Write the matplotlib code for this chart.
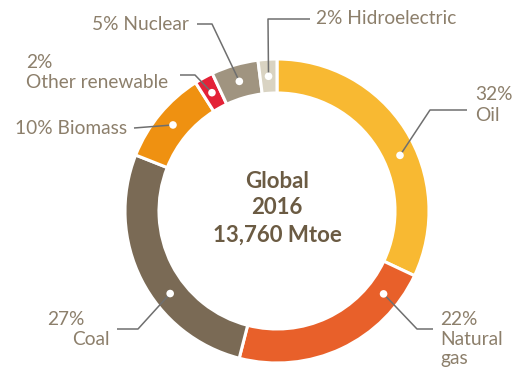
import numpy as np
import matplotlib.pyplot as plt
from matplotlib.patches import Circle

# energy mix, global 2016 (% of total primary energy)
sources = ['Oil', 'Natural gas', 'Coal', 'Biomass', 'Other renewable', 'Nuclear', 'Hidroelectric']
shares = [32, 22, 27, 10, 2, 5, 2]
colors = ['#F8B932', '#E8602A', '#7A6A55', '#EF9111', '#E32237', '#A09480', '#D9D3C2']
label_texts = ['32%\nOil', '22%\nNatural\ngas', '27%\nCoal', '10% Biomass',
               '2%\nOther renewable', '5% Nuclear', '2% Hidroelectric']

W, H = 513, 369
TXT = '#8C7F6B'
LINE = '#6F6F6F'
plt.rcParams['font.family'] = ['Lato', 'DejaVu Sans']

fig = plt.figure(figsize=(W / 100, H / 100), dpi=100)
ax = fig.add_axes([0, 0, 1, 1])

cx, cy = 277, H - 211
r_out, ring = 152, 34
wedges, _ = ax.pie(shares, colors=colors, startangle=90, counterclock=False,
                   radius=r_out, center=(cx, cy), frame=True,
                   wedgeprops=dict(width=ring, edgecolor='white', linewidth=2.2))
ax.set_xlim(0, W)
ax.set_ylim(0, H)
ax.set_aspect('equal')
ax.axis('off')

# where along each wedge the leader dot sits (fraction of its sweep)
dot_pos = [0.57, 0.16, 0.39, 0.5, 0.5, 0.5, 0.5]
# leader elbows / ends, in pixels from top-left
leaders = [
    [(430, 110), (467, 110)],
    [(417, 329), (433, 329)],
    [(138, 329), (117, 329)],
    [(134, 128)],
    [(195, 75), (180, 75)],
    [(212, 24), (197, 24)],
    [(268, 19), (310, 19)],
]

r_dot = r_out - ring / 2
start = 90.0
for share, frac, pts in zip(shares, dot_pos, leaders):
    sweep = share * 3.6
    ang = np.deg2rad(start - sweep * frac)
    start -= sweep
    dx, dy = cx + r_dot * np.cos(ang), cy + r_dot * np.sin(ang)
    xs = [dx] + [p[0] for p in pts]
    ys = [dy] + [H - p[1] for p in pts]
    ax.plot(xs, ys, color=LINE, lw=1.1, solid_capstyle='butt', zorder=3)
    ax.add_patch(Circle((dx, dy), 3.8, facecolor='white', edgecolor='none', zorder=4))

fs = 13.8
ax.text(475, H - 100, '32%', fontsize=fs, color=TXT, ha='left', va='baseline')
ax.text(475, H - 121, 'Oil', fontsize=fs, color=TXT, ha='left', va='baseline')
ax.text(440, H - 325, '22%', fontsize=fs, color=TXT, ha='left', va='baseline')
ax.text(440, H - 345, 'Natural', fontsize=fs, color=TXT, ha='left', va='baseline')
ax.text(440, H - 364, 'gas', fontsize=fs, color=TXT, ha='left', va='baseline')
ax.text(85, H - 325, '27%', fontsize=fs, color=TXT, ha='right', va='baseline')
ax.text(110, H - 345, 'Coal', fontsize=fs, color=TXT, ha='right', va='baseline')
ax.text(127, H - 128, label_texts[3], fontsize=fs, color=TXT, ha='right', va='center')
ax.text(26, H - 68, '2%', fontsize=fs, color=TXT, ha='left', va='baseline')
ax.text(26, H - 88, 'Other renewable', fontsize=fs, color=TXT, ha='left', va='baseline')
ax.text(189, H - 24, label_texts[5], fontsize=fs, color=TXT, ha='right', va='center')
ax.text(316, H - 19, label_texts[6], fontsize=fs, color=TXT, ha='left', va='center')

center = ['Global', '2016', '13,760 Mtoe']
for i, s in enumerate(center):
    ax.text(cx, H - (181 + 27 * i), s, fontsize=16, fontweight='bold',
            color='#6B5B43', ha='center', va='center')

fig.savefig('out.png', dpi=100)
